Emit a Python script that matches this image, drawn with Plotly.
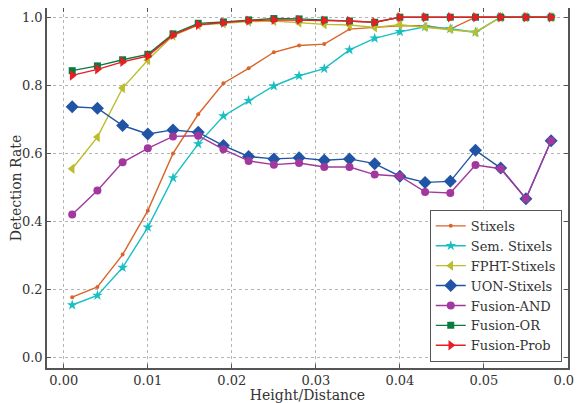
import plotly.graph_objects as go

x = [0.001, 0.004, 0.007, 0.010, 0.013, 0.016, 0.019, 0.022, 0.025, 0.028,
     0.031, 0.034, 0.037, 0.040, 0.043, 0.046, 0.049, 0.052, 0.055, 0.058]

stixels = [0.178, 0.208, 0.303, 0.432, 0.600, 0.715, 0.806, 0.850, 0.897, 0.917,
           0.921, 0.965, 0.970, 0.975, 0.975, 0.965, 1.0, 1.0, 1.0, 1.0]
sem_stixels = [0.155, 0.183, 0.265, 0.383, 0.528, 0.628, 0.710, 0.755, 0.798, 0.828,
               0.849, 0.904, 0.938, 0.957, 0.972, 0.966, 0.956, 1.0, 1.0, 1.0]
fpht = [0.555, 0.648, 0.792, 0.874, 0.946, 0.977, 0.982, 0.987, 0.989, 0.984,
        0.979, 0.977, 0.970, 0.978, 0.971, 0.965, 0.956, 1.0, 1.0, 1.0]
uon = [0.737, 0.733, 0.682, 0.657, 0.669, 0.662, 0.623, 0.591, 0.584, 0.587,
       0.580, 0.584, 0.570, 0.533, 0.515, 0.518, 0.609, 0.557, 0.467, 0.637]
fusion_and = [0.421, 0.491, 0.574, 0.615, 0.650, 0.652, 0.612, 0.578, 0.567, 0.572,
              0.560, 0.560, 0.538, 0.533, 0.487, 0.484, 0.566, 0.555, 0.467, 0.637]
fusion_or = [0.843, 0.857, 0.875, 0.891, 0.951, 0.982, 0.986, 0.992, 0.996, 0.995,
             0.992, 0.989, 0.985, 1.0, 1.0, 1.0, 1.0, 1.0, 1.0, 1.0]
fusion_prob = [0.829, 0.847, 0.869, 0.886, 0.948, 0.978, 0.984, 0.990, 0.992, 0.992,
               0.990, 0.989, 0.985, 1.0, 1.0, 1.0, 1.0, 1.0, 1.0, 1.0]

series = [
    ("Stixels", stixels, "#d9652b", "circle", 4),
    ("Sem. Stixels", sem_stixels, "#19bfc2", "star", 8),
    ("FPHT-Stixels", fpht, "#bcbd2a", "triangle-left", 9),
    ("UON-Stixels", uon, "#2254a6", "diamond", 10),
    ("Fusion-AND", fusion_and, "#a2389e", "circle", 8),
    ("Fusion-OR", fusion_or, "#0b7a3e", "square", 7),
    ("Fusion-Prob", fusion_prob, "#ec1c24", "triangle-right", 9),
]

fig = go.Figure()
for name, vals, color, sym, size in series:
    fig.add_trace(go.Scatter(
        x=x, y=vals, name=name, mode="lines+markers",
        line=dict(color=color, width=1.4),
        marker=dict(symbol=sym, size=size, color=color, line=dict(width=0)),
    ))

tick_font = dict(family="DejaVu Serif", size=13, color="#333333")
title_font = dict(family="DejaVu Serif", size=14, color="#333333")
axis_common = dict(
    showline=True, linecolor="#555555", linewidth=1.5, mirror="ticks",
    ticks="inside", ticklen=4, tickcolor="#555555", tickwidth=1,
    showgrid=True, gridcolor="#b5b5b5", griddash="dot", gridwidth=1,
    zeroline=False, tickfont=tick_font, automargin=False,
    ticklabeloverflow="allow",
)
fig.update_xaxes(range=[-0.002, 0.06001], tickmode="linear", tick0=0, dtick=0.01,
                 tickformat=".2f",
                 title=dict(text="Height/Distance", font=title_font, standoff=2),
                 **axis_common)
fig.update_yaxes(range=[-0.03, 1.027], dtick=0.2, tickformat=".1f",
                 title=dict(text="Detection Rate", font=title_font, standoff=4),
                 **axis_common)

fig.update_layout(
    width=574, height=395,
    margin=dict(l=39, r=14, t=0, b=35),
    plot_bgcolor="white", paper_bgcolor="white",
    font=tick_font,
    legend=dict(x=0.988, y=0.017, xanchor="right", yanchor="bottom",
                bgcolor="white", bordercolor="#555555", borderwidth=1,
                font=dict(family="DejaVu Serif", size=13, color="#333333"),
                itemwidth=30, tracegroupgap=0),
)

fig.write_html("out.html")
